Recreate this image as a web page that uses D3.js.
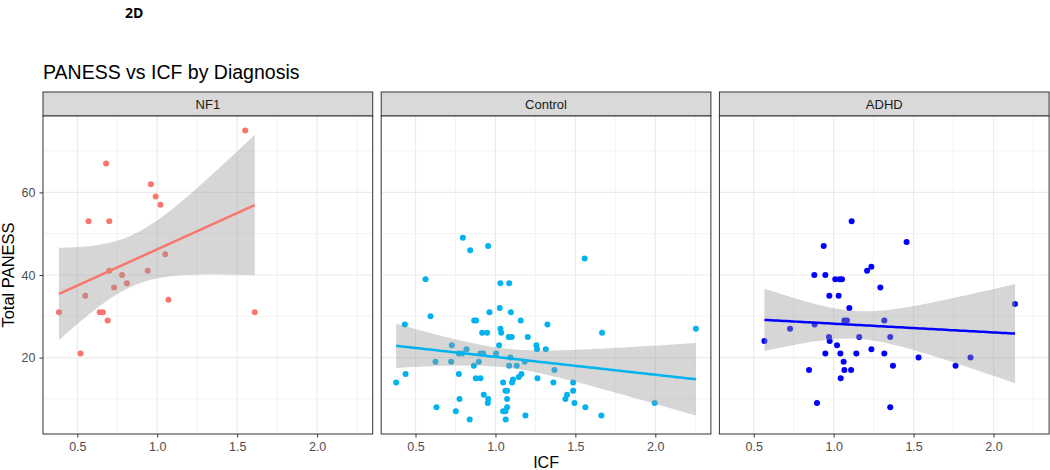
<!DOCTYPE html>
<meta charset="utf-8">
<script src="https://cdn.jsdelivr.net/npm/d3@7"></script>
<style>
    body { margin: 0; background: #fff; }
    text { font-family: "Liberation Sans", Arial, sans-serif; }
    .tick text { fill: #4d4d4d; font-size: 12.5px; }
    .tick line { stroke: #333; }
    .grid { stroke: #ebebeb; fill: none; }
</style>
<body>
<div id="chart"></div>
<script>

    // values (ICF on x, Total PANESS on y)
    var groups = ["NF1", "Control", "ADHD"]
    var colors = ["#F8766D", "#00B2EE", "#0000FF"]

    var nf1_icf = [1.55, 0.68, 0.96, 0.99, 1.02, 0.57, 0.70, 1.05, 0.70, 0.94, 0.78, 0.81, 0.73, 0.55, 1.07, 0.385, 0.64, 0.66, 1.61, 0.69, 0.52]
    var nf1_paness = [75, 67, 62, 59, 57, 53, 53, 45, 41, 41, 40, 38, 37, 35, 34, 31, 31, 31, 31, 29, 21]

    var control_icf = [0.796, 0.954, 0.842, 1.558, 0.5625, 1.031, 1.086, 1.027, 0.9625, 1.096, 0.594, 0.867, 0.879, 1.158, 0.433, 1.325,
        1.031, 2.254, 0.917, 0.948, 1.036, 1.667, 1.083, 1.102, 1.202, 0.727, 1.023, 1.256, 1.26, 1.315, 0.819, 0.771, 0.792, 0.906,
        0.923, 1.004, 1.094, 0.723, 0.625, 0.896, 1.183, 0.865, 1.086, 1.133, 1.369, 0.771, 0.4375, 1.1625, 0.877, 0.906, 1.146, 1.11,
        1.104, 1.048, 1.2625, 1.3625, 1.486, 0.379, 1.073, 1.0625, 1.486, 0.927, 0.955, 1.073, 0.775, 1.448, 1.4375, 1.494, 0.952,
        1.996, 0.631, 1.073, 1.5625, 1.048, 1.0625, 0.752, 1.1875, 1.6625, 0.839, 1.064]
    var control_paness = [49, 47, 46, 44, 39, 38, 38, 32, 31, 31, 30, 29, 29, 29, 28, 28,
        27, 27, 26, 26, 26, 26, 25, 25, 25, 23, 23, 23, 22, 22, 22, 21, 21, 21,
        21, 21, 20, 19, 19, 19, 19, 18, 18, 18, 17, 16, 16, 16, 15, 15, 15.3, 14.7,
        14, 14, 15, 14, 14, 14, 12, 12, 12, 11, 10, 10, 10, 11, 10, 9, 9,
        9, 8, 8, 8, 7, 7, 7, 6, 6, 5, 5]

    var adhd_icf = [0.567, 0.727, 0.846, 0.879, 0.881, 0.896, 0.9375, 0.948, 0.948, 0.971, 0.975, 0.973, 1.01, 1.0375, 1.052, 1.021,
        1.031, 1.042, 1.044, 1.0625, 1.067, 1.067, 1.083, 1.098, 1.109, 1.1125, 1.142, 1.16, 1.209, 1.236, 1.236, 1.292, 1.317, 1.317,
        1.354, 1.354, 1.371, 1.456, 1.531, 1.7625, 1.856, 2.135]
    var adhd_paness = [24, 27, 17, 40, 28, 9, 47, 40, 21, 25, 24, 35, 39, 39, 39, 23,
        35, 21, 15, 19, 17, 29, 29, 32, 17, 53, 21, 25, 41, 42, 22, 37, 29, 21,
        25, 8, 18, 48, 20, 18, 20, 33]

    var x_ticks = [0.5, 1.0, 1.5, 2.0]
    var x_minor = [0.25, 0.75, 1.25, 1.75, 2.25]
    var y_ticks = [20, 40, 60]
    var y_minor = [10, 30, 50, 70]

    var xs = [nf1_icf, control_icf, adhd_icf]
    var ys = [nf1_paness, control_paness, adhd_paness]

    var W = 1050, H = 470
    var left = 43, top_ = 116, strip_h = 24
    var panel_w = 329.7, gap = 8.5
    var panel_h = 318

    // shared (fixed) scales with ggplot's 5% expansion
    var all_x = d3.merge(xs), all_y = d3.merge(ys)
    var xe = d3.extent(all_x), ye = d3.extent(all_y)
    var xpad = (xe[1] - xe[0]) * 0.05, ypad = (ye[1] - ye[0]) * 0.05
    var x_scale = d3.scaleLinear().domain([xe[0] - xpad, xe[1] + xpad]).range([0, panel_w])
    var y_scale = d3.scaleLinear().domain([ye[0] - ypad, ye[1] + ypad]).range([panel_h, 0])

    function tq(df) {
        // 97.5% t quantile (series expansion)
        var z = 1.959964
        var g1 = (Math.pow(z, 3) + z) / 4
        var g2 = (5 * Math.pow(z, 5) + 16 * Math.pow(z, 3) + 3 * z) / 96
        var g3 = (3 * Math.pow(z, 7) + 19 * Math.pow(z, 5) + 17 * Math.pow(z, 3) - 15 * z) / 384
        return z + g1 / df + g2 / (df * df) + g3 / (df * df * df)
    }

    // lm with 95% confidence band, like geom_smooth(method = "lm")
    function fit(xv, yv) {
        var n = xv.length
        var mx = d3.mean(xv), my = d3.mean(yv)
        var sxx = d3.sum(xv, (d) => { return (d - mx) * (d - mx) })
        var sxy = d3.sum(xv, (d, i) => { return (d - mx) * (yv[i] - my) })
        var b = sxy / sxx, a = my - b * mx
        var rss = d3.sum(xv, (d, i) => { var r = yv[i] - a - b * d; return r * r })
        var s = Math.sqrt(rss / (n - 2))
        var t = tq(n - 2)
        var lo = d3.min(xv), hi = d3.max(xv)
        var pts = d3.range(80).map((k) => {
            var x0 = lo + (hi - lo) * k / 79
            var yh = a + b * x0
            var se = s * Math.sqrt(1 / n + (x0 - mx) * (x0 - mx) / sxx)
            return { x: x0, y: yh, ymin: yh - t * se, ymax: yh + t * se }
        })
        return pts
    }

    var svg = d3.select("#chart").append("svg").attr("width", W).attr("height", H)

    svg.append("text").attr("x", 125).attr("y", 18).text("2D")
        .style("font-family", "'Open Sans', sans-serif").style("font-weight", "bold").style("font-size", "14px").style("fill", "#000")

    svg.append("text").attr("x", left).attr("y", 79).text("PANESS vs ICF by Diagnosis")
        .style("font-size", "19.5px").style("fill", "#000")

    groups.forEach((g, gi) => {
        var px = left + gi * (panel_w + gap)

        // strip
        var strip = svg.append("g").attr("transform", "translate(" + px + "," + (top_ - strip_h) + ")")
        strip.append("rect").attr("width", panel_w).attr("height", strip_h)
            .style("fill", "#d9d9d9").style("stroke", "#333").style("stroke-width", 1)
        strip.append("text").attr("x", panel_w / 2).attr("y", strip_h / 2 + 4.5).text(g)
            .style("text-anchor", "middle").style("font-size", "13px").style("fill", "#1a1a1a")

        var p = svg.append("g").attr("transform", "translate(" + px + "," + top_ + ")")
        p.append("rect").attr("width", panel_w).attr("height", panel_h).style("fill", "#fff")

        // grid
        p.selectAll(".xminor").data(x_minor.filter((d) => { return d > x_scale.domain()[0] && d < x_scale.domain()[1] }))
            .enter().append("line").attr("class", "grid")
            .attr("x1", (d) => { return x_scale(d) }).attr("x2", (d) => { return x_scale(d) })
            .attr("y1", 0).attr("y2", panel_h).style("stroke-width", 0.6)
        p.selectAll(".yminor").data(y_minor).enter().append("line").attr("class", "grid")
            .attr("y1", (d) => { return y_scale(d) }).attr("y2", (d) => { return y_scale(d) })
            .attr("x1", 0).attr("x2", panel_w).style("stroke-width", 0.6)
        p.selectAll(".xmajor").data(x_ticks).enter().append("line").attr("class", "grid")
            .attr("x1", (d) => { return x_scale(d) }).attr("x2", (d) => { return x_scale(d) })
            .attr("y1", 0).attr("y2", panel_h).style("stroke-width", 1.1)
        p.selectAll(".ymajor").data(y_ticks).enter().append("line").attr("class", "grid")
            .attr("y1", (d) => { return y_scale(d) }).attr("y2", (d) => { return y_scale(d) })
            .attr("x1", 0).attr("x2", panel_w).style("stroke-width", 1.1)

        // points
        var data = xs[gi].map((d, i) => { return { x: d, y: ys[gi][i] } })
        p.selectAll(".dot").data(data).enter().append("circle").attr("class", "dot")
            .attr("cx", (d) => { return x_scale(d.x) }).attr("cy", (d) => { return y_scale(d.y) })
            .attr("r", 3).style("fill", colors[gi])

        // smooth
        var sm = fit(xs[gi], ys[gi])
        var area = d3.area().x((d) => { return x_scale(d.x) })
            .y0((d) => { return y_scale(d.ymin) }).y1((d) => { return y_scale(d.ymax) })
        p.append("path").datum(sm).attr("d", area).style("fill", "#999999").style("fill-opacity", 0.4)
        var line = d3.line().x((d) => { return x_scale(d.x) }).y((d) => { return y_scale(d.y) })
        p.append("path").datum(sm).attr("d", line).style("fill", "none").style("stroke", colors[gi]).style("stroke-width", 2.5)

        p.append("rect").attr("width", panel_w).attr("height", panel_h)
            .style("fill", "none").style("stroke", "#333").style("stroke-width", 1)

        // axes
        var x_axis = d3.axisBottom(x_scale).tickValues(x_ticks).tickSize(3.5).tickPadding(5).tickFormat(d3.format(".1f"))
        var xg = p.append("g").attr("transform", "translate(0," + panel_h + ")").call(x_axis)
        xg.select(".domain").remove()

        if (gi == 0) {
            var y_axis = d3.axisLeft(y_scale).tickValues(y_ticks).tickSize(3.5).tickPadding(4)
            var yg = p.append("g").call(y_axis)
            yg.select(".domain").remove()
        }
    })

    svg.append("text").attr("transform", "rotate(-90)").attr("x", -(top_ + panel_h / 2)).attr("y", 14)
        .text("Total PANESS").style("text-anchor", "middle").style("font-size", "16.5px").style("fill", "#000")

    svg.append("text").attr("x", left + 1.5 * panel_w + gap).attr("y", 468)
        .text("ICF").style("text-anchor", "middle").style("font-size", "16px").style("fill", "#000")

</script>
</body>
</html>
